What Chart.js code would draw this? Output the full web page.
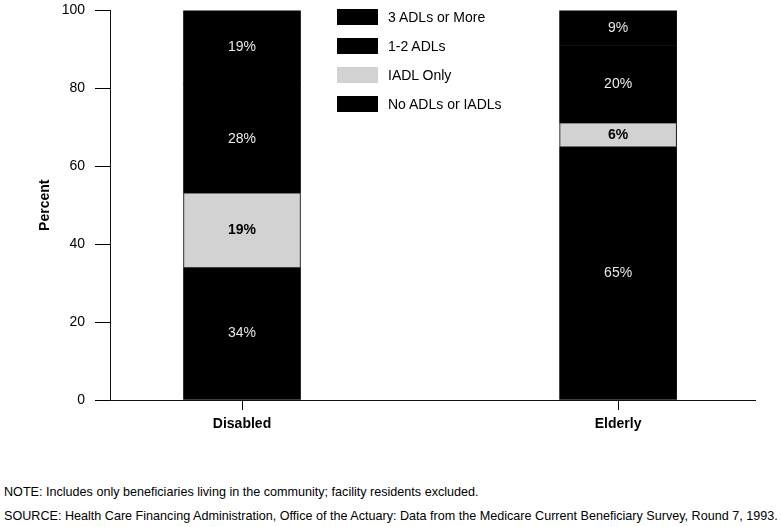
<!DOCTYPE html>
<html>
<head>
<meta charset="utf-8">
<script src="https://cdn.jsdelivr.net/npm/chart.js@4"></script>
<style>
  body { margin: 0; background: #fff; font-family: "Liberation Sans", Arial, sans-serif; }
  #wrap { position: relative; width: 781px; height: 527px; overflow: hidden; }
  #chartBox { position: absolute; left: 0; top: -8px; width: 781px; height: 448px; }
  #legend { position: absolute; left: 337px; top: 9px; }
  .row { height: 29px; display: flex; align-items: flex-start; }
  .box { width: 41px; height: 16px; margin-right: 10px; }
  .lbl { font-size: 14px; line-height: 16px; color: #000; }
  .note { position: absolute; left: 4px; font-size: 12.6px; color: #000; white-space: nowrap; }
</style>
</head>
<body>
<div id="wrap">
  <div id="chartBox"><canvas id="adlChart"></canvas></div>
  <div id="legend"></div>
  <div class="note" id="note1" style="top:485px">NOTE: Includes only beneficiaries living in the community; facility residents excluded.</div>
  <div class="note" id="note2" style="top:509px">SOURCE: Health Care Financing Administration, Office of the Actuary: Data from the Medicare Current Beneficiary Survey, Round 7, 1993.</div>
</div>
<script>
// data
var groups = ["Disabled", "Elderly"];
var seriesNames = ["No ADLs or IADLs", "IADL Only", "1-2 ADLs", "3 ADLs or More"];
var noAdl = [34, 65];
var iadlOnly = [19, 6];
var adl12 = [28, 20];
var adl3plus = [19, 9];
var yTicks = [0, 20, 40, 60, 80, 100];

var seriesValues = [noAdl, iadlOnly, adl12, adl3plus];
var seriesColors = ["#000000", "#d2d2d2", "#000000", "#000000"];
var labelColors = ["#e6e6e6", "#000000", "#eeeeee", "#e6e6e6"];
var labelBold = [false, true, false, false];

var datasets = seriesNames.map(function (name, i) {
  return {
    label: name,
    data: seriesValues[i].map(function (v, j) { return { x: j + 1, y: v }; }),
    backgroundColor: seriesColors[i],
    borderColor: "#000",
    borderWidth: i == 1 ? { left: 1, right: 1 } : 0,
    barThickness: 117
  };
});

// percent numbers inside each segment
var segmentLabels = {
  id: "segmentLabels",
  afterDatasetsDraw: function (chart) {
    var ctx = chart.ctx;
    ctx.save();
    ctx.textAlign = "center";
    ctx.textBaseline = "middle";
    chart.data.datasets.forEach(function (ds, i) {
      var meta = chart.getDatasetMeta(i);
      ctx.fillStyle = labelColors[i];
      ctx.font = (labelBold[i] ? "bold " : "") + "14px 'Liberation Sans', Arial, sans-serif";
      meta.data.forEach(function (bar, j) {
        var mid = (bar.y + bar.base) / 2;
        ctx.fillText(ds.data[j].y + "%", bar.x, mid);
      });
    });
    ctx.restore();
  }
};

new Chart("adlChart", {
  type: "bar",
  data: { datasets: datasets },
  plugins: [segmentLabels],
  options: {
    responsive: true,
    maintainAspectRatio: false,
    animation: false,
    layout: { padding: { top: 2, right: 26, bottom: 0, left: 0 } },
    plugins: {
      legend: { display: false },
      tooltip: { enabled: false }
    },
    scales: {
      x: {
        type: "linear",
        stacked: true,
        offset: false,
        min: 0.649,
        max: 2.364,
        afterBuildTicks: function (scale) {
          scale.ticks = groups.map(function (g, i) { return { value: i + 1 }; });
        },
        afterFit: function (scale) { scale.height = 40; },
        ticks: {
          color: "#000",
          padding: 6,
          font: { family: "'Liberation Sans', Arial, sans-serif", size: 14, weight: "bold" },
          callback: function (v) { return groups[v - 1]; }
        },
        grid: { offset: false, drawOnChartArea: false, drawTicks: true, tickLength: 10, color: "#000", tickWidth: 1 },
        border: { display: true, color: "#111", width: 1 }
      },
      y: {
        stacked: true,
        min: 0,
        max: 100,
        afterBuildTicks: function (scale) {
          scale.ticks = yTicks.map(function (v) { return { value: v }; });
        },
        afterFit: function (scale) { scale.width = 110; },
        ticks: {
          color: "#000",
          padding: 10,
          font: { family: "'Liberation Sans', Arial, sans-serif", size: 14 }
        },
        grid: { drawOnChartArea: false, drawTicks: true, tickLength: 15, color: "#000", tickWidth: 1 },
        border: { display: true, color: "#111", width: 1 },
        title: {
          display: true,
          text: "Percent",
          color: "#000",
          padding: { top: 37, bottom: 0 },
          font: { family: "'Liberation Sans', Arial, sans-serif", size: 14, weight: "bold" }
        }
      }
    }
  }
});

// legend, top entry first like the picture
var legendEl = document.getElementById("legend");
for (var k = seriesNames.length - 1; k >= 0; k--) {
  var row = document.createElement("div");
  row.className = "row";
  row.innerHTML = '<div class="box" style="background:' + seriesColors[k] + '"></div><div class="lbl">' + seriesNames[k] + '</div>';
  legendEl.appendChild(row);
}
</script>
</body>
</html>
